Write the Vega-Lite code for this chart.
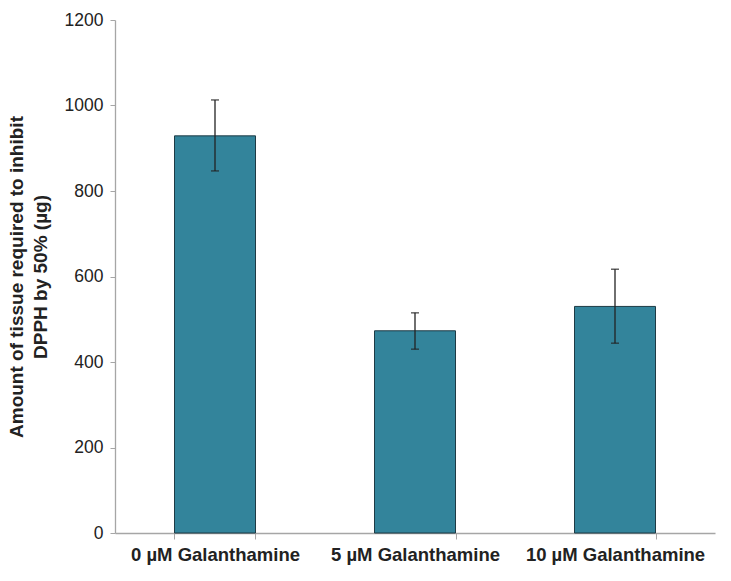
{
  "$schema": "https://vega.github.io/schema/vega-lite/v6.json",
  "width": 600,
  "height": 513,
  "autosize": "none",
  "padding": {"left": 115, "top": 20, "right": 16, "bottom": 48},
  "background": "white",
  "config": {"view": {"stroke": null}, "font": "Liberation Sans"},
  "data": {"values": [
    {"group": "0 µM Galanthamine", "value": 929, "lo": 847, "hi": 1013},
    {"group": "5 µM Galanthamine", "value": 473, "lo": 430, "hi": 515},
    {"group": "10 µM Galanthamine", "value": 530, "lo": 444, "hi": 617}
  ]},
  "encoding": {
    "x": {
      "field": "group", "type": "nominal", "sort": null,
      "scale": {"paddingInner": 0.595, "paddingOuter": 0.2975},
      "axis": {
        "title": null, "labelAngle": 0, "labelFontSize": 18.5, "labelFontWeight": "bold",
        "labelColor": "#222", "labelPadding": 6, "domainColor": "#a6a6a6", "tickColor": "#a6a6a6",
        "tickBand": "extent", "tickSize": 6, "domainWidth": 1.3
      }
    }
  },
  "layer": [
    {
      "mark": {"type": "bar", "color": "#33849b", "stroke": "#1e3b45", "strokeWidth": 1},
      "encoding": {
        "y": {
          "field": "value", "type": "quantitative",
          "scale": {"domain": [0, 1200], "nice": false},
          "axis": {
            "values": [0, 200, 400, 600, 800, 1000, 1200], "format": "d",
            "grid": false, "labelFontSize": 17.5, "labelColor": "#222", "labelPadding": 7,
            "domainColor": "#a6a6a6", "tickColor": "#a6a6a6", "tickSize": 5, "domainWidth": 1.3,
            "title": ["Amount of tissue required to inhibit", "DPPH by 50% (µg)"],
            "titleFontSize": 19, "titleFontWeight": "bold", "titleColor": "#222", "titlePadding": 14,
            "titleLineHeight": 24
          }
        }
      }
    },
    {
      "mark": {"type": "rule", "color": "#222", "strokeWidth": 1.3},
      "encoding": {"y": {"field": "lo", "type": "quantitative"}, "y2": {"field": "hi"}}
    },
    {
      "mark": {"type": "tick", "color": "#222", "size": 8, "thickness": 1.5},
      "encoding": {"y": {"field": "lo", "type": "quantitative"}}
    },
    {
      "mark": {"type": "tick", "color": "#222", "size": 8, "thickness": 1.5},
      "encoding": {"y": {"field": "hi", "type": "quantitative"}}
    }
  ]
}
